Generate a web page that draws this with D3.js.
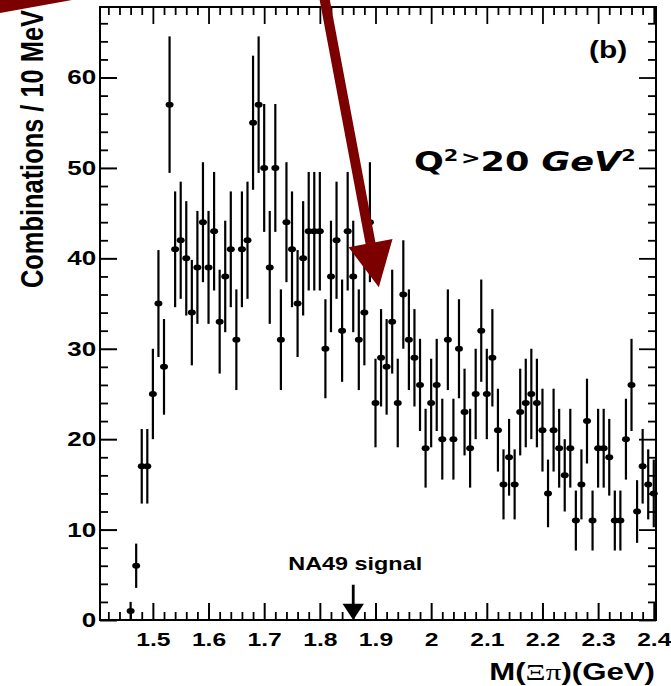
<!DOCTYPE html>
<html>
<head>
<meta charset="utf-8">
<script src="https://cdn.jsdelivr.net/npm/d3@7"></script>
<style>
    body { margin: 0; background: #fff; }
    svg { display: block; }
    text { font-family: "Liberation Sans", Arial, Helvetica, sans-serif; font-weight: bold; fill: #000; }
</style>
</head>
<body>
<div id="chart"></div>
<script>
// M(Xi pi) bin centres, GeV (10 MeV bins)
const massGeV = [
    1.46, 1.47, 1.48, 1.49, 1.50, 1.51, 1.52, 1.53, 1.54, 1.55,
    1.56, 1.57, 1.58, 1.59, 1.60, 1.61, 1.62, 1.63, 1.64, 1.65,
    1.66, 1.67, 1.68, 1.69, 1.70, 1.71, 1.72, 1.73, 1.74, 1.75,
    1.76, 1.77, 1.78, 1.79, 1.80, 1.81, 1.82, 1.83, 1.84, 1.85,
    1.86, 1.87, 1.88, 1.89, 1.90, 1.91, 1.92, 1.93, 1.94, 1.95,
    1.96, 1.97, 1.98, 1.99, 2.00, 2.01, 2.02, 2.03, 2.04, 2.05,
    2.06, 2.07, 2.08, 2.09, 2.10, 2.11, 2.12, 2.13, 2.14, 2.15,
    2.16, 2.17, 2.18, 2.19, 2.20, 2.21, 2.22, 2.23, 2.24, 2.25,
    2.26, 2.27, 2.28, 2.29, 2.30, 2.31, 2.32, 2.33, 2.34, 2.35,
    2.36, 2.37, 2.38, 2.39, 2.40
];

// combinations per bin
const counts = [
    1, 6, 17, 17, 25, 35, 28, 57, 41, 42,
    40, 34, 39, 44, 39, 43, 33, 38, 41, 31,
    41, 42, 55, 57, 50, 39, 50, 31, 44, 41,
    35, 40, 43, 43, 43, 30, 38, 42, 32, 43,
    38, 31, 34, 44, 24, 29, 28, 33, 24, 36,
    31, 29, 26, 19, 24, 26, 20, 31, 20, 30,
    23, 19, 25, 32, 25, 29, 21, 15, 18, 15,
    23, 24, 25, 24, 21, 14, 21, 19, 16, 19,
    11, 15, 22, 11, 19, 19, 18, 11, 11, 20,
    26, 12, 17, 15, 14
];

const xTickValues = [1.5, 1.6, 1.7, 1.8, 1.9, 2.0, 2.1, 2.2, 2.3, 2.4];
const xTickLabels = ["1.5", "1.6", "1.7", "1.8", "1.9", "2", "2.1", "2.2", "2.3", "2.4"];
const yTickValues = [0, 10, 20, 30, 40, 50, 60];
const yTickLabels = ["0", "10", "20", "30", "40", "50", "60"];

// annotations (data units)
const na49Mass = 1.86;
const na49Label = "NA49 signal";
const bigArrowTail = [1.802, 70.8];
const bigArrowTip = [1.906, 36.8];

// ─────────────────────────────────────────────
const W = 671, H = 686;
const plot = { left: 100, right: 656, top: 7, bottom: 620 };
const stretch = 1.3; // the figure is widened horizontally
const majorLen = 17, minorLen = 8;

const svg = d3.select("#chart").append("svg")
    .attr("width", W)
    .attr("height", H);

const x = d3.scaleLinear().domain([1.405, 2.404]).range([plot.left, plot.right]);
const y = d3.scaleLinear().domain([0, 67.8]).range([plot.bottom, plot.top]);

const xMinor = d3.range(1.42, 2.405, 0.02).filter(v => Math.abs(v * 10 - Math.round(v * 10)) > 0.01);
const yMinor = d3.range(2, 67, 2).filter(v => v % 10 !== 0);

// axes: ticks inward on all four sides
function tickAxis(axisFn, scale, values, len, transform) {
    const g = svg.append("g")
        .attr("transform", transform)
        .call(axisFn(scale).tickValues(values).tickSize(-len).tickSizeOuter(0).tickFormat(""));
    g.select(".domain").remove();
    g.selectAll(".tick line").attr("stroke", "#000").attr("stroke-width", 1.8);
    return g;
}

tickAxis(d3.axisBottom, x, xMinor, minorLen, `translate(0,${plot.bottom})`);
tickAxis(d3.axisTop, x, xMinor, minorLen, `translate(0,${plot.top})`);
tickAxis(d3.axisTop, x, xTickValues, majorLen, `translate(0,${plot.top})`);
tickAxis(d3.axisLeft, y, yMinor, minorLen, `translate(${plot.left},0)`);
tickAxis(d3.axisRight, y, yMinor, minorLen, `translate(${plot.right},0)`);
tickAxis(d3.axisRight, y, yTickValues, majorLen, `translate(${plot.right},0)`);

// labelled bottom axis
const xAxis = svg.append("g")
    .attr("transform", `translate(0,${plot.bottom})`)
    .call(d3.axisBottom(x).tickValues(xTickValues).tickSize(-majorLen).tickSizeOuter(0)
        .tickPadding(13).tickFormat((d, i) => xTickLabels[i]));
xAxis.select(".domain").remove();
xAxis.selectAll(".tick line").attr("stroke", "#000").attr("stroke-width", 2);
xAxis.selectAll(".tick text")
    .attr("transform", `scale(${stretch},1)`)
    .style("font-size", "19px")
    .style("font-family", "'Liberation Sans', Arial, sans-serif")
    .style("font-weight", "bold")
    .attr("fill", "#000");

// labelled left axis
const yAxis = svg.append("g")
    .attr("transform", `translate(${plot.left},0)`)
    .call(d3.axisLeft(y).tickValues(yTickValues).tickSize(-majorLen).tickSizeOuter(0)
        .tickPadding(3).tickFormat((d, i) => yTickLabels[i]));
yAxis.select(".domain").remove();
yAxis.selectAll(".tick line").attr("stroke", "#000").attr("stroke-width", 2);
yAxis.selectAll(".tick text")
    .attr("transform", `scale(${stretch},1)`)
    .style("font-size", "20px")
    .style("font-family", "'Liberation Sans', Arial, sans-serif")
    .style("font-weight", "bold")
    .attr("fill", "#000");

// frame
svg.append("rect")
    .attr("x", plot.left).attr("y", plot.top)
    .attr("width", plot.right - plot.left).attr("height", plot.bottom - plot.top)
    .attr("fill", "none").attr("stroke", "#000").attr("stroke-width", 2);

// data: poisson error bars + markers
const points = massGeV.map((m, i) => ({ m, n: counts[i], e: Math.sqrt(counts[i]) }));

svg.append("g").selectAll("line")
    .data(points)
    .enter()
    .append("line")
    .attr("x1", d => x(d.m)).attr("x2", d => x(d.m))
    .attr("y1", d => y(d.n - d.e)).attr("y2", d => y(d.n + d.e))
    .attr("stroke", "#000")
    .attr("stroke-width", 2.2);

svg.append("g").selectAll("ellipse")
    .data(points)
    .enter()
    .append("ellipse")
    .attr("cx", d => x(d.m))
    .attr("cy", d => y(d.n))
    .attr("rx", 4)
    .attr("ry", 3)
    .attr("fill", "#000");

// NA49 arrow
const nx = x(na49Mass);
svg.append("line")
    .attr("x1", nx).attr("x2", nx)
    .attr("y1", y(3.9)).attr("y2", y(1.5))
    .attr("stroke", "#000").attr("stroke-width", 2.8);
svg.append("path")
    .attr("d", `M${nx - 10.7},${y(1.8)} L${nx + 10.7},${y(1.8)} L${nx},${y(0)} Z`)
    .attr("fill", "#000");
svg.append("text")
    .attr("transform", `translate(${nx + 2},570) scale(${stretch},1)`)
    .attr("text-anchor", "middle")
    .style("font-size", "18px")
    .text(na49Label);

// panel tag
svg.append("text")
    .attr("transform", `translate(608,58) scale(${stretch},1)`)
    .attr("text-anchor", "middle")
    .style("font-size", "23px")
    .text("(b)");

// Q^2 cut
const q = svg.append("text")
    .attr("transform", `translate(414,171) scale(${stretch},1)`)
    .style("font-family", "'DejaVu Sans', sans-serif")
    .style("font-size", "27px");
q.append("tspan").text("Q");
q.append("tspan").attr("dy", -10).style("font-size", "16px").text("2");
q.append("tspan").attr("dy", 3).attr("dx", 2).style("font-size", "18px").text(">");
q.append("tspan").attr("dy", 7).text("20 ");
q.append("tspan").style("font-style", "italic").text("GeV");
q.append("tspan").attr("dy", -10).style("font-size", "16px").text("2");

// axis titles
svg.append("text")
    .attr("transform", `translate(43,288) scale(${stretch},1) rotate(-90)`)
    .attr("textLength", 278)
    .attr("lengthAdjust", "spacingAndGlyphs")
    .style("font-size", "24px")
    .text("Combinations / 10 MeV");

const xt = svg.append("text")
    .attr("transform", `translate(655,680) scale(${stretch},1)`)
    .attr("text-anchor", "end")
    .style("font-size", "24px");
xt.append("tspan").text("M(");
xt.append("tspan").style("font-family", "'Liberation Serif', 'DejaVu Serif', serif").style("font-weight", "normal").text("Ξπ");
xt.append("tspan").text(")(GeV)");

// dark red arrows drawn over the figure
const red = "#7d0000";
const tx = x(bigArrowTail[0]), ty = y(bigArrowTail[1]);
const px = x(bigArrowTip[0]), py = y(bigArrowTip[1]);
const len = Math.hypot(px - tx, py - ty);
const ux = (px - tx) / len, uy = (py - ty) / len;
const headLen = 45, headHalf = 22.4, shaftHalf = 5;
const bx = px - ux * headLen, by = py - uy * headLen;
const nX = -uy, nY = ux;
svg.append("path")
    .attr("d", [
        `M${tx + nX * shaftHalf},${ty + nY * shaftHalf}`,
        `L${bx + nX * shaftHalf},${by + nY * shaftHalf}`,
        `L${bx + nX * headHalf},${by + nY * headHalf}`,
        `L${px},${py}`,
        `L${bx - nX * headHalf},${by - nY * headHalf}`,
        `L${bx - nX * shaftHalf},${by - nY * shaftHalf}`,
        `L${tx - nX * shaftHalf},${ty - nY * shaftHalf}`,
        "Z"
    ].join(" "))
    .attr("fill", red);

// piece of the neighbouring panel's arrow in the corner
svg.append("path")
    .attr("d", "M-2,-2 L74,-2 L72,0 L0,13 L-2,13 Z")
    .attr("fill", red);
</script>
</body>
</html>
